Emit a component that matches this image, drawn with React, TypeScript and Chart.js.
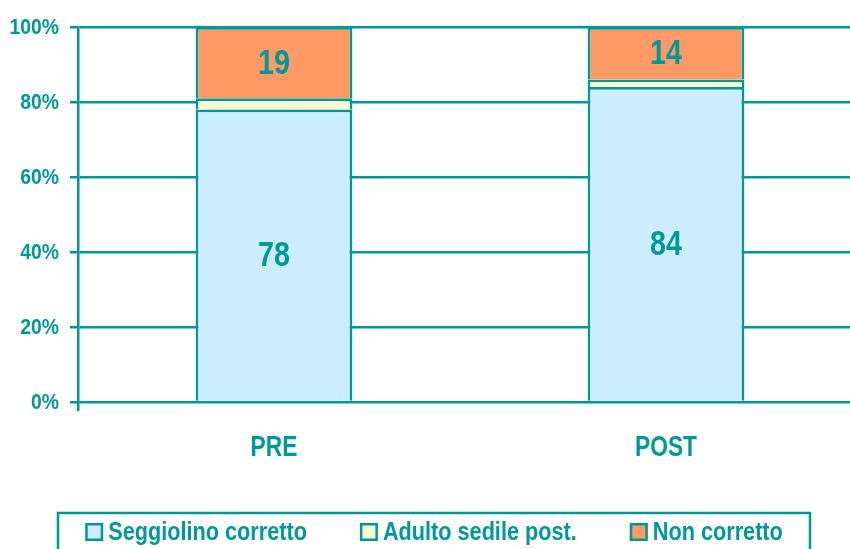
import { useEffect, useRef } from "react";
import { Chart, registerables } from "chart.js";

Chart.register(...registerables);

const categories = ["PRE", "POST"];
const seggiolinoCorretto = [78, 84];
const adultoSedilePost = [3, 2];
const nonCorretto = [19, 14];
const seriesNames = ["Seggiolino corretto", "Adulto sedile post.", "Non corretto"];
const seriesColors = ["#CCECFF", "#FFFFCC", "#FF9966"];
const showValueLabels = [true, false, true];
const yMin = 0;
const yMax = 100;
const yStep = 20;

const TEAL = "#009999";
const FONT = "'Liberation Sans', Arial, sans-serif";
const CAP = 0.716;

// draw horizontally condensed bold text, vertically centred on its cap height
function condensedText(
  ctx: CanvasRenderingContext2D,
  text: string,
  x: number,
  cy: number,
  size: number,
  sx: number,
  align: CanvasTextAlign
) {
  ctx.save();
  ctx.font = `bold ${size}px ${FONT}`;
  ctx.textAlign = align;
  ctx.textBaseline = "alphabetic";
  ctx.translate(x, cy + (CAP * size) / 2);
  ctx.scale(sx, 1);
  ctx.fillText(text, 0, 0);
  ctx.restore();
}

const valueLabelPlugin = {
  id: "valueLabels",
  afterDatasetsDraw(chart: any) {
    const ctx = chart.ctx;
    ctx.save();
    ctx.fillStyle = TEAL;
    chart.data.datasets.forEach((ds: any, i: number) => {
      if (!showValueLabels[i]) return;
      const meta = chart.getDatasetMeta(i);
      meta.data.forEach((el: any, j: number) => {
        const cy = (el.y + el.base) / 2 - 1.5;
        condensedText(ctx, String(ds.data[j]), el.x, cy, 35, 0.82, "center");
      });
    });
    ctx.restore();
  },
};

const axisLabelPlugin = {
  id: "axisLabels",
  afterDraw(chart: any) {
    const ctx = chart.ctx;
    const y = chart.scales.y;
    const x = chart.scales.x;
    ctx.save();
    ctx.fillStyle = TEAL;
    y.ticks.forEach((t: any) => {
      const py = y.getPixelForValue(t.value);
      condensedText(ctx, `${t.value}%`, y.right - 19, py - 1, 22, 0.88, "right");
    });
    chart.data.labels.forEach((lab: string, i: number) => {
      const px = x.getPixelForTick(i);
      condensedText(ctx, lab, px, x.top + 43, 30, 0.76, "center");
    });
    ctx.restore();
  },
};

const boxLegendPlugin = {
  id: "boxLegend",
  afterDraw(chart: any, _args: any, opts: any) {
    const ctx = chart.ctx;
    ctx.save();
    ctx.strokeStyle = TEAL;
    ctx.lineWidth = 2.5;
    ctx.strokeRect(opts.left, opts.top, opts.right - opts.left, 80);
    ctx.font = `bold ${opts.fontSize}px ${FONT}`;
    const items = chart.data.datasets.map((ds: any) => ({
      label: ds.label,
      color: ds.backgroundColor,
      w: ctx.measureText(ds.label).width * opts.sx,
    }));
    const box = opts.boxSize;
    const total =
      items.reduce((s: number, it: any) => s + box + opts.textGap + it.w, 0) +
      opts.itemGap * (items.length - 1);
    let x = (opts.left + opts.right) / 2 - total / 2;
    const cy = opts.textY;
    items.forEach((it: any) => {
      ctx.fillStyle = it.color;
      ctx.fillRect(x, cy - box / 2, box, box);
      ctx.strokeStyle = TEAL;
      ctx.lineWidth = 2.5;
      ctx.strokeRect(x + 1.25, cy - box / 2 + 1.25, box - 2.5, box - 2.5);
      ctx.fillStyle = TEAL;
      condensedText(ctx, it.label, x + box + opts.textGap, cy - 1, opts.fontSize, opts.sx, "left");
      x += box + opts.textGap + it.w + opts.itemGap;
    });
    ctx.restore();
  },
};

export default function App() {
  const ref = useRef<HTMLCanvasElement | null>(null);

  useEffect(() => {
    if (!ref.current) return;
    const values = [seggiolinoCorretto, adultoSedilePost, nonCorretto];
    const chart = new Chart(ref.current, {
      type: "bar",
      data: {
        labels: categories,
        datasets: values.map((v, i) => ({
          label: seriesNames[i],
          data: v,
          backgroundColor: seriesColors[i],
          borderColor: TEAL,
          borderWidth: 2.75,
          borderSkipped: "start",
          barPercentage: 1,
          categoryPercentage: 0.4,
        })),
      },
      options: {
        responsive: false,
        animation: false,
        layout: { padding: { top: 27, right: 8, bottom: 87, left: 0 } },
        plugins: {
          legend: { display: false },
          tooltip: { enabled: false },
          boxLegend: {
            left: 58,
            right: 810,
            top: 513,
            textY: 532,
            fontSize: 25.5,
            sx: 0.85,
            boxSize: 18,
            textGap: 5,
            itemGap: 53,
          },
        } as any,
        scales: {
          x: {
            stacked: true,
            grid: {
              drawOnChartArea: false,
              drawTicks: true,
              tickLength: 9,
              lineWidth: 2.5,
              color: (c: any) => (c.index === 0 ? TEAL : "rgba(0,0,0,0)"),
            },
            border: { display: false },
            ticks: { display: false },
            afterFit: (s: any) => {
              s.height = 60;
            },
          },
          y: {
            stacked: true,
            min: yMin,
            max: yMax,
            grid: {
              color: TEAL,
              lineWidth: 2.5,
              tickLength: 8,
              drawTicks: true,
            },
            border: { display: true, color: TEAL, width: 2.5 },
            ticks: { stepSize: yStep, display: false },
            afterFit: (s: any) => {
              s.width = 78;
            },
          },
        },
      },
      plugins: [valueLabelPlugin, axisLabelPlugin, boxLegendPlugin],
    });
    return () => chart.destroy();
  }, []);

  return (
    <div
      style={{
        position: "fixed",
        left: 0,
        top: 0,
        width: 850,
        height: 549,
        overflow: "hidden",
        background: "#fff",
      }}
    >
      <canvas ref={ref} width={870} height={549} style={{ display: "block" }} />
    </div>
  );
}
